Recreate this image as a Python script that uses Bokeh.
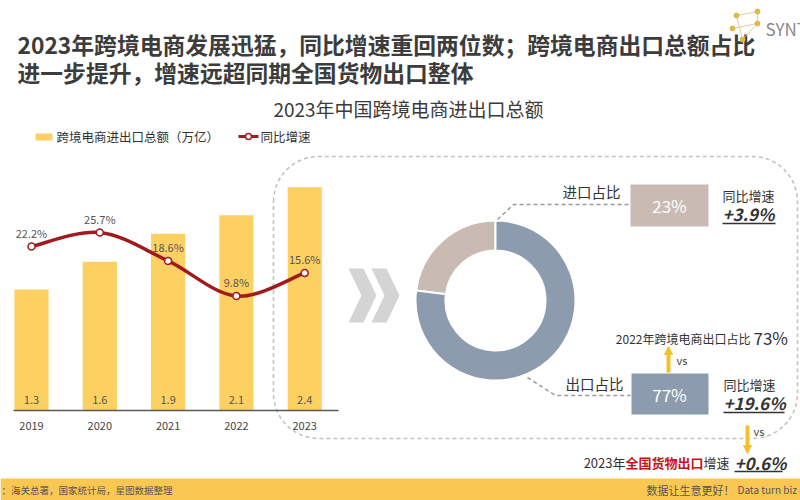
import math
from bokeh.plotting import figure
from bokeh.models import Range1d, Arrow, NormalHead
from bokeh.core.properties import value
from bokeh.embed import file_html
from bokeh.resources import INLINE

# ---------------- data ----------------
years = [2019, 2020, 2021, 2022, 2023]
year_labels = ["2019", "2020", "2021", "2022", "2023"]
totals = [1.3, 1.6, 1.9, 2.1, 2.4]            # 跨境电商进出口总额（万亿）
growth = [22.2, 25.7, 18.6, 9.8, 15.6]        # 同比增速 %
share_names = ["进口占比", "出口占比"]
shares = [23, 77]                             # 2023 import / export share %
share_growth = [3.9, 19.6]                    # 同比增速 %
export_share_2022 = 73
national_export_growth = 0.6

FONT = "Noto Sans CJK SC"
BAR = "#FDD161"
RED = "#A11B1E"
IMP = "#C9BBB4"
EXP = "#8C9BAE"
GOLD = "#F2C12E"
DARK = "#333333"
MID = "#555555"

W, H = 800, 500
p = figure(width=W, height=H, output_backend="svg", toolbar_location=None,
           x_range=Range1d(0, W), y_range=Range1d(H, 0),
           x_axis_type=None, y_axis_type=None, min_border=0)
p.grid.visible = False
p.outline_line_color = None
p.background_fill_color = "white"
p.border_fill_color = "white"

# scales for the bar/line chart (pixel layout -> data ranges)
BASE, PXU = 410, 93.0          # amount axis: baseline pixel, px per 万亿
G0, GPX = 334.8, 4.0           # growth axis: pixel of 0 %, px per %
X0, DXP = 31, 68.3             # first category pixel, px per year
p.extra_y_ranges = {
    "amt": Range1d(-(H - BASE) / PXU, BASE / PXU),
    "gr": Range1d(-(H - G0) / GPX, G0 / GPX),
}
p.extra_x_ranges = {"yr": Range1d(years[0] - X0 / DXP, years[0] + (W - X0) / DXP)}


def txt(x, y, s, size, color=DARK, align="left", baseline="middle", style="normal", **kw):
    p.text(x=[x], y=[y], text=[s], text_font=value(FONT), text_font_size=f"{size}px",
           text_color=color, text_align=align, text_baseline=baseline,
           text_font_style=style, **kw)


# ---------------- titles ----------------
txt(17, 44, "2023年跨境电商发展迅猛，同比增速重回两位数；跨境电商出口总额占比", 22.8, "#3c3c3c", style="bold")
txt(17, 72, "进一步提升，增速远超同期全国货物出口整体", 22.8, "#3c3c3c", style="bold")
txt(408, 108, "2023年中国跨境电商进出口总额", 19, "#3a3a3a", align="center")

# logo
lx = [736, 757, 757, 732, 742]
ly = [15, 11, 23, 28, 39]
p.multi_line(xs=[[736, 757], [757, 757], [757, 742], [736, 742], [732, 757]],
             ys=[[15, 11], [11, 23], [23, 39], [15, 39], [28, 23]],
             line_color="#e0cfa0", line_width=1)
p.scatter(x=lx, y=ly, size=5, color="#E0B84A")
txt(765, 28, "SYNTUN", 17, "#8a8a8a")

# legend
p.quad(left=[35], right=[52], top=[133], bottom=[140], fill_color=BAR, line_color=None)
txt(56, 136, "跨境电商进出口总额（万亿）", 12.5, "#333333")
p.line(x=[238, 258], y=[136, 136], line_color=RED, line_width=3)
p.scatter(x=[248], y=[136], size=6, fill_color="white", line_color=RED, line_width=1.5)
txt(260, 136, "同比增速", 12.5, "#333333")

# ---------------- dashed rounded frame ----------------
def rounded(l, t, r, b, rad, n=14):
    xs, ys = [], []
    corners = [((l + rad, t + rad), 180, 270), ((r - rad, t + rad), 270, 360),
               ((r - rad, b - rad), 0, 90), ((l + rad, b - rad), 90, 180)]
    for (cx, cy), a0, a1 in corners:
        for k in range(n + 1):
            a = math.radians(a0 + (a1 - a0) * k / n)
            xs.append(cx + rad * math.cos(a))
            ys.append(cy + rad * math.sin(a))
    xs.append(xs[0]); ys.append(ys[0])
    return xs, ys

fx, fy = rounded(273, 156, 797, 438, 45)
p.line(x=fx, y=fy, line_color="#c4c4c4", line_width=1.6, line_dash="4 3")

# ---------------- bars ----------------
p.vbar(x=years, top=totals, bottom=0, width=0.5, fill_color=BAR, line_color=None,
       x_range_name="yr", y_range_name="amt")
p.segment(x0=[13], y0=[BASE], x1=[338], y1=[BASE], line_color="#5a5a5a", line_width=1.5)
p.text(x=years, y=[399] * 5, text=[f"{v:.1f}" for v in totals], x_range_name="yr",
       text_font=value(FONT), text_font_size="11px", text_color=MID,
       text_align="center", text_baseline="middle")
p.text(x=years, y=[425] * 5, text=year_labels, x_range_name="yr",
       text_font=value(FONT), text_font_size="11px", text_color="#444444",
       text_align="center", text_baseline="middle")

# smooth growth line (Bezier through the data points)
n = len(years)
bx0, by0, bx1, by1, c0x, c0y, c1x, c1y = [], [], [], [], [], [], [], []
for i in range(n - 1):
    pm = max(i - 1, 0)
    pp = min(i + 2, n - 1)
    bx0.append(years[i]); by0.append(growth[i])
    bx1.append(years[i + 1]); by1.append(growth[i + 1])
    c0x.append(years[i] + (years[i + 1] - years[pm]) / 6)
    c0y.append(growth[i] + (growth[i + 1] - growth[pm]) / 6)
    c1x.append(years[i + 1] - (years[pp] - years[i]) / 6)
    c1y.append(growth[i + 1] - (growth[pp] - growth[i]) / 6)
p.bezier(x0=bx0, y0=by0, x1=bx1, y1=by1, cx0=c0x, cy0=c0y, cx1=c1x, cy1=c1y,
         line_color=RED, line_width=3.5, x_range_name="yr", y_range_name="gr")
p.scatter(x=years, y=growth, size=7, fill_color="white", line_color=RED, line_width=1.5,
          x_range_name="yr", y_range_name="gr")
p.text(x=years, y=growth, text=[f"{v:.1f}%" for v in growth], x_range_name="yr",
       y_range_name="gr", y_offset=-14, text_font=value(FONT), text_font_size="11px",
       text_color=MID, text_align="center", text_baseline="middle")

# chevrons
p.patches(xs=[[348, 363, 376, 363, 348, 361], [371, 386, 399, 386, 371, 384]],
          ys=[[268, 268, 295, 322, 322, 295]] * 2, fill_color="#d4d4d4", line_color=None)

# ---------------- donut ----------------
CX, CY = 495, 300
tot = sum(shares)
starts, ends = [], []
a = math.pi / 2
for s in shares:
    starts.append(a)
    a += 2 * math.pi * s / tot
    ends.append(a)
p.annular_wedge(x=[CX] * 2, y=[CY] * 2, inner_radius=50, outer_radius=80,
                inner_radius_units="screen", outer_radius_units="screen",
                start_angle=starts, end_angle=ends, fill_color=[IMP, EXP],
                line_color="white", line_width=2)

# leaders
p.line(x=[497, 513, 630], y=[219, 204, 204], line_color="#9a9a9a", line_width=1.5, line_dash="4 3")
p.line(x=[527, 555, 630], y=[377, 395, 395], line_color="#9a9a9a", line_width=1.5, line_dash="4 3")

# import block
txt(562, 191, share_names[0], 14.5, DARK)
p.quad(left=[630], right=[708], top=[184], bottom=[226], fill_color=IMP, line_color=None)
txt(669, 205, f"{shares[0]}%", 17, "white", align="center")
txt(722, 195, "同比增速", 13, DARK)
txt(722, 213, f"+{share_growth[0]}%", 17, DARK, style="bold italic")
p.segment(x0=[722], y0=[223], x1=[775], y1=[223], line_color=DARK, line_width=1.5)

# export block
txt(565, 383, share_names[1], 14.5, DARK)
p.quad(left=[631], right=[708], top=[373], bottom=[414], fill_color=EXP, line_color=None)
txt(669, 394, f"{shares[1]}%", 17, "white", align="center")
txt(723, 384, "同比增速", 13, DARK)
txt(723, 402, f"+{share_growth[1]}%", 17, DARK, style="bold italic")
p.segment(x0=[723], y0=[412], x1=[784], y1=[412], line_color=DARK, line_width=1.5)

# 2022 comparison
txt(750, 338, "2022年跨境电商出口占比", 12, DARK, align="right")
txt(753, 337, f"{export_share_2022}%", 17, DARK)
p.add_layout(Arrow(end=NormalHead(size=8, fill_color=GOLD, line_color=GOLD),
                   x_start=668, y_start=372, x_end=668, y_end=346,
                   line_color=GOLD, line_width=4))
txt(676, 359, "vs", 11, "#444444")

# national export comparison
p.add_layout(Arrow(end=NormalHead(size=8, fill_color=GOLD, line_color=GOLD),
                   x_start=747, y_start=425, x_end=747, y_end=453,
                   line_color=GOLD, line_width=4))
txt(753, 430, "vs", 11, "#444444")
txt(625, 462, "2023年", 13, DARK, align="right")
txt(625, 462, "全国货物出口", 13, "#C0161B", style="bold")
txt(703, 462, "增速", 13, DARK)
txt(734, 462, f"+{national_export_growth}%", 17, DARK, style="bold italic")
p.segment(x0=[734], y0=[471], x1=[782], y1=[471], line_color=DARK, line_width=1.5)

# ---------------- footer ----------------
p.quad(left=[0], right=[W], top=[478], bottom=[H], fill_color="#FAC852", line_color=None)
txt(1, 489, "：海关总署，国家统计局，星图数据整理", 9.5, "#555555")
txt(646, 489, "数据让生意更好！", 11, "#555555")
txt(737, 489, "Data turn biz c", 10, "#555555")

open("out.html", "w").write(file_html(p, INLINE))
